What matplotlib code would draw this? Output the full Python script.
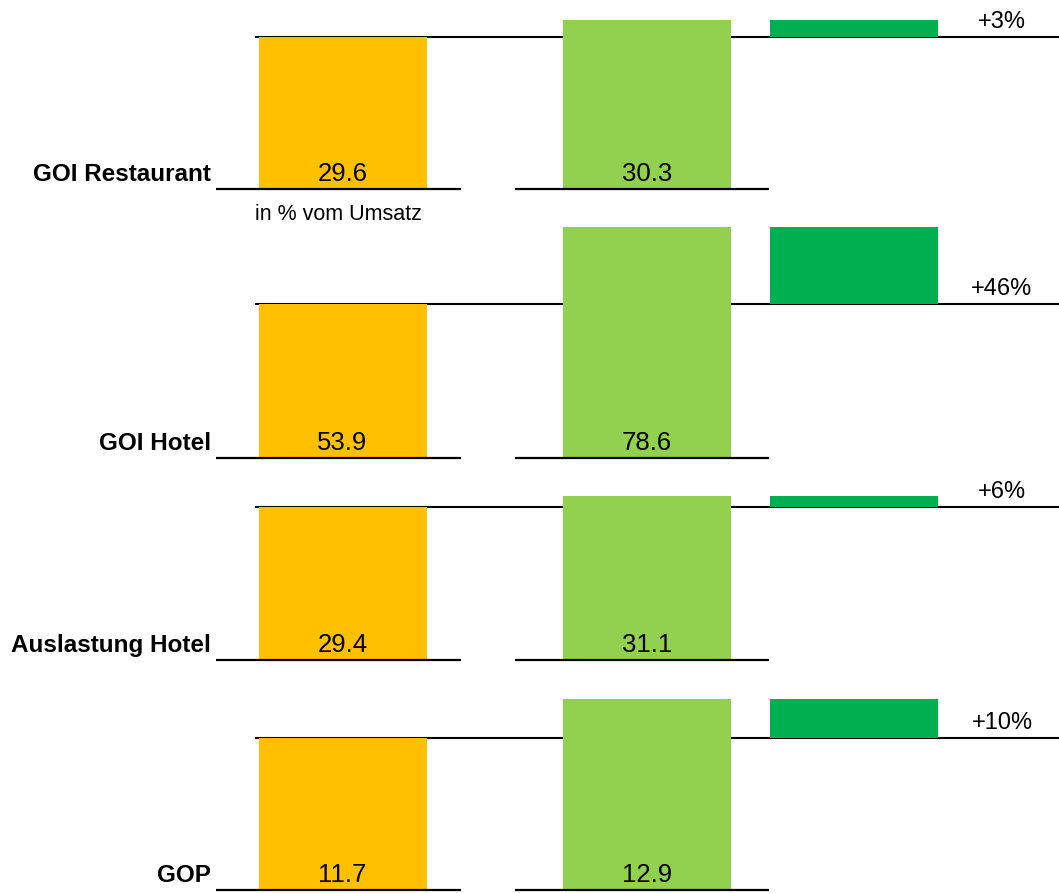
import matplotlib.pyplot as plt

# Kennzahlen: Vorjahr vs. aktuelles Jahr
categories = ['GOI Restaurant', 'GOI Hotel', 'Auslastung Hotel', 'GOP']
prev_values = [29.6, 53.9, 29.4, 11.7]
curr_values = [30.3, 78.6, 31.1, 12.9]
delta_labels = ['+3%', '+46%', '+6%', '+10%']

# layout (pixel units, figure is 1059 x 893)
W, H = 1059, 893
baselines = [189, 458, 660, 890]
panel_h = [185, 240, 240, 240]
ylims = [(23.34, 30.96), (4.5, 81.5), (5.75, 42.85), (7.02, 14.4)]
x_prev, x_curr, x_delta = 342.5, 647, 853.5
bar_w = 168

c_prev = '#FFC000'
c_curr = '#92D050'
c_delta = '#00B050'

narrow = ['Liberation Sans Narrow', 'Liberation Sans', 'DejaVu Sans']
plain = ['Liberation Sans', 'DejaVu Sans']

fig = plt.figure(figsize=(W / 100, H / 100), dpi=100)

for i, cat in enumerate(categories):
    base = baselines[i]
    ax = fig.add_axes([0, 1 - base / H, 1, panel_h[i] / H])
    ax.patch.set_alpha(0)
    ax.set_xlim(0, W)
    lo, hi = ylims[i]
    ax.set_ylim(lo, hi)
    ax.axis('off')

    p, c = prev_values[i], curr_values[i]

    # reference line at previous-year level, behind the bars
    ax.hlines(p, 255, W, color='black', lw=1.5, zorder=1)
    ax.bar(x_prev, p - lo, bottom=lo, width=bar_w, color=c_prev, zorder=2)
    ax.bar(x_curr, c - lo, bottom=lo, width=bar_w, color=c_curr, zorder=2)
    ax.bar(x_delta, c - p, bottom=p, width=bar_w, color=c_delta, zorder=2)

    # base lines under the two value bars
    ax.hlines(lo, 216, 461, color='black', lw=1.6, zorder=3, clip_on=False)
    ax.hlines(lo, 515, 769, color='black', lw=1.6, zorder=3, clip_on=False)

    for x, v in [(x_prev, p), (x_curr, c)]:
        ax.annotate(f'{v:.1f}', xy=(x, lo), xytext=(0, 5.8), textcoords='offset points',
                    ha='center', va='baseline', fontsize=18.5, family=plain, zorder=4)

    ax.annotate(cat, xy=(211, lo), xytext=(0, 5.8), textcoords='offset points',
                ha='right', va='baseline', fontsize=17.5, fontweight='bold',
                family=narrow)

    ax.annotate(delta_labels[i], xy=(1002, p), xytext=(0, 6.5), textcoords='offset points',
                ha='center', va='baseline', fontsize=17, family=plain)

    if i == 0:
        ax.annotate('in % vom Umsatz', xy=(338, lo), xytext=(0, -22.5),
                    textcoords='offset points', ha='center', va='baseline',
                    fontsize=15.5, family=narrow, annotation_clip=False)

fig.savefig('out.png', dpi=100)
